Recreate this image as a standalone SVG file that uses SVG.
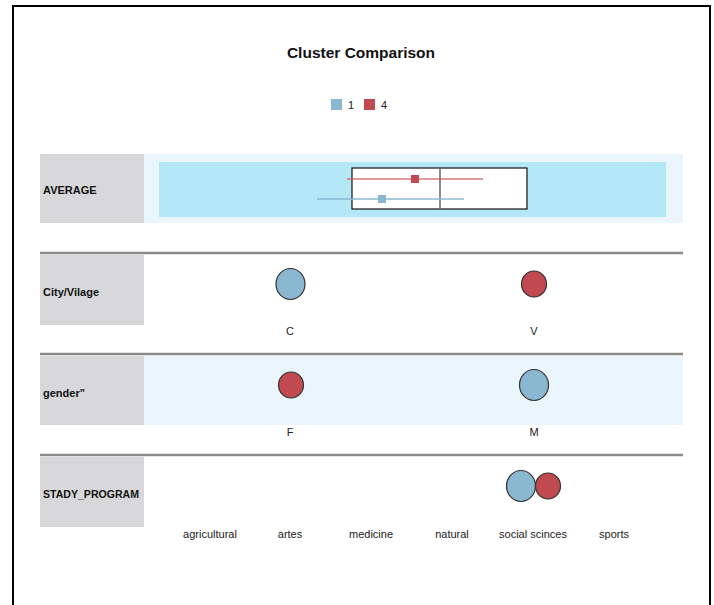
<svg xmlns="http://www.w3.org/2000/svg" width="714" height="605" viewBox="0 0 714 605">
<style>
.lbl{fill:#d8d8da}
.bg{fill:#eaf5fe}
.sep{stroke:#8a8a8a;stroke-width:2.5}
.vn{font-family:"Liberation Sans",Arial,sans-serif;font-size:11px;font-weight:bold;fill:#111}
.cat{font-family:"Liberation Sans",Arial,sans-serif;font-size:11px;fill:#222;text-anchor:middle}
.c1{fill:#8ab8d1;stroke:#333;stroke-width:1.2}
.c4{fill:#c04a50;stroke:#333;stroke-width:1.2}
</style>
<rect x="0" y="0" width="714" height="605" fill="#fff"/>
<path d="M13 605 V6 H710 V605" fill="none" stroke="#000" stroke-width="2"/>
<text x="361" y="58" font-family="Liberation Sans,Arial,sans-serif" font-size="15.5" font-weight="bold" text-anchor="middle" fill="#111">Cluster Comparison</text>
<g id="legend">
<rect x="331" y="99" width="11" height="11" fill="#8ab8d1"/>
<text x="348" y="109" font-family="Liberation Sans,Arial,sans-serif" font-size="11" fill="#222">1</text>
<rect x="364" y="99" width="11" height="11" fill="#c04a50"/>
<text x="381" y="109" font-family="Liberation Sans,Arial,sans-serif" font-size="11" fill="#222">4</text>
</g>
<g id="row-average">
<rect class="lbl" x="40" y="154" width="104" height="69"/>
<text class="vn" x="43" y="194">AVERAGE</text>
<rect class="bg" x="144" y="154" width="539" height="69"/>
<rect x="159" y="162" width="507" height="55" fill="#b5e8f6"/>
<rect x="352" y="168" width="175" height="41" fill="#fff" stroke="#111" stroke-width="1.2"/>
<line x1="440" y1="168" x2="440" y2="209" stroke="#666" stroke-width="1.5"/>
<line x1="347" y1="179" x2="483" y2="179" stroke="#c85a60" stroke-width="1.3" opacity="0.8"/>
<rect x="411" y="175" width="8" height="8" fill="#c04a50"/>
<line x1="317" y1="199" x2="464" y2="199" stroke="#8ab8d1" stroke-width="1.3"/>
<rect x="378" y="195" width="8" height="8" fill="#8ab8d1"/>
</g>
<g id="row-city">
<rect class="lbl" x="40" y="255" width="104" height="70"/>
<text class="vn" x="43" y="296">City/Vilage</text>
<ellipse class="c1" cx="290.5" cy="284" rx="14.5" ry="15.5"/>
<ellipse class="c4" cx="534" cy="284" rx="12.5" ry="13"/>
<text class="cat" x="290" y="335">C</text>
<text class="cat" x="534" y="335">V</text>
</g>
<g id="row-gender">
<rect class="lbl" x="40" y="356" width="104" height="69"/>
<rect class="bg" x="144" y="356" width="539" height="69"/>
<text class="vn" x="43" y="397">gender"</text>
<ellipse class="c4" cx="291" cy="385" rx="12.5" ry="13"/>
<ellipse class="c1" cx="534" cy="385" rx="14.5" ry="15.5"/>
<text class="cat" x="290" y="436">F</text>
<text class="cat" x="534" y="436">M</text>
</g>
<g id="row-program">
<rect class="lbl" x="40" y="457" width="104" height="70"/>
<text class="vn" x="43" y="498" textLength="96" lengthAdjust="spacingAndGlyphs">STADY_PROGRAM</text>
<ellipse class="c1" cx="521" cy="486" rx="14.5" ry="15.5"/>
<ellipse class="c4" cx="548" cy="486" rx="12.5" ry="13"/>
<text class="cat" x="210" y="538">agricultural</text>
<text class="cat" x="290" y="538">artes</text>
<text class="cat" x="371" y="538">medicine</text>
<text class="cat" x="452" y="538">natural</text>
<text class="cat" x="533" y="538">social scinces</text>
<text class="cat" x="614" y="538">sports</text>
</g>
<g id="connectors">
<line class="sep" x1="40" y1="253" x2="683" y2="253"/>
<line class="sep" x1="40" y1="354" x2="683" y2="354"/>
<line class="sep" x1="40" y1="455" x2="683" y2="455"/>
</g>
</svg>
